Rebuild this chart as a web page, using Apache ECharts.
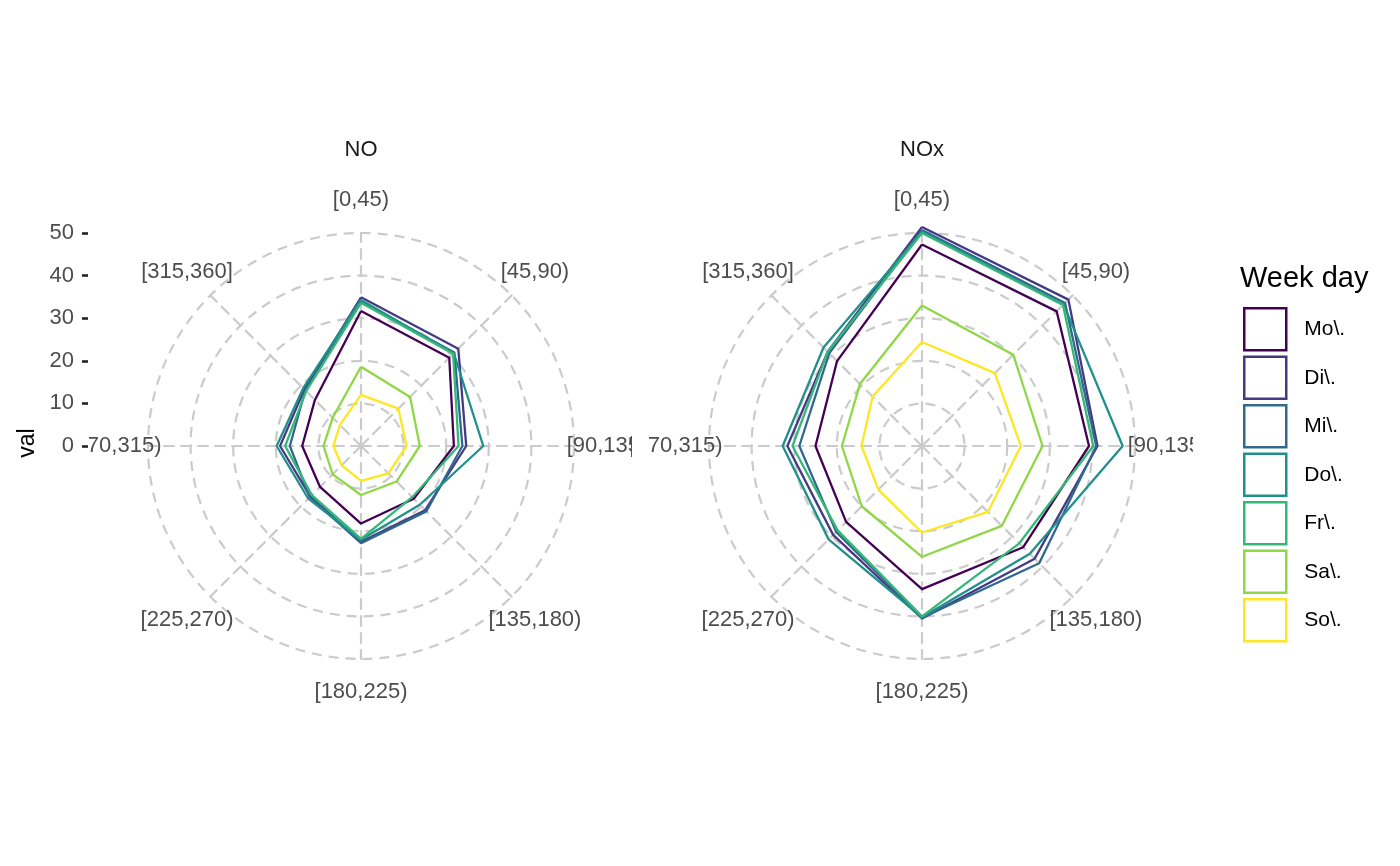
<!DOCTYPE html>
<html>
<head>
<meta charset="utf-8">
<script src="https://cdn.jsdelivr.net/npm/echarts@6/dist/echarts.min.js"></script>
<style>
  html, body { margin: 0; background: #fff; }
  #chart { width: 1400px; height: 866px; }
</style>
</head>
<body>
<div id="chart"></div>
<script>
// wind sectors, clockwise from north (ggplot order)
const sectors = ['[0,45)', '[45,90)', '[90,135)', '[135,180)', '[180,225)', '[225,270)', '[270,315)', '[315,360]']
const weekDays = ['Mo\\.', 'Di\\.', 'Mi\\.', 'Do\\.', 'Fr\\.', 'Sa\\.', 'So\\.']
const dayColors = ['#440154', '#443a83', '#31688e', '#21908c', '#35b779', '#8fd744', '#fde725']
const panelNames = ['NO', 'NOx']
const valTicks = [0, 10, 20, 30, 40, 50]

// NO, values per sector
const noMo = [31.7, 29.3, 21.8, 17.5, 18.2, 13.6, 13.8, 15.3]
const noDi = [34.9, 32.3, 24.7, 21.3, 22.5, 16.8, 19.0, 18.8]
const noMi = [33.8, 31.0, 23.8, 21.7, 22.8, 17.0, 16.7, 18.5]
const noDo = [34.3, 30.8, 28.7, 19.5, 22.0, 17.5, 19.8, 19.2]
const noFr = [33.6, 30.6, 22.9, 17.0, 21.8, 16.3, 17.8, 18.2]
const noSa = [18.6, 16.3, 13.8, 11.8, 11.5, 9.4, 8.8, 9.4]
const noSo = [12.0, 12.4, 10.7, 9.1, 8.2, 6.4, 6.5, 7.0]

// NOx, values per sector
const noxMo = [47.3, 44.7, 39.2, 33.6, 33.6, 25.2, 25.0, 28.2]
const noxDi = [51.4, 48.6, 41.2, 37.4, 40.5, 29.5, 31.6, 31.3]
const noxMi = [50.7, 47.5, 40.9, 38.9, 40.3, 28.5, 28.8, 30.8]
const noxDo = [50.3, 47.0, 47.1, 35.8, 40.2, 31.0, 32.7, 32.7]
const noxFr = [50.0, 46.8, 40.2, 32.3, 40.0, 28.0, 30.4, 31.3]
const noxSa = [33.0, 30.3, 28.3, 26.5, 26.0, 20.0, 18.8, 20.6]
const noxSo = [24.4, 24.2, 23.2, 21.9, 20.3, 14.5, 14.2, 16.4]

const panelValues = [
  [noMo, noDi, noMi, noDo, noFr, noSa, noSo],
  [noxMo, noxDi, noxMi, noxDo, noxFr, noxSa, noxSo]
]

const fontFamily = 'Liberation Sans, Arial, sans-serif'
const centers = [361, 922]
const centerY = 446
const gridStyle = { color: '#cbcbcb', width: 2.2, type: [10, 7] }

// echarts radar runs counter-clockwise, ggplot clockwise
const toRadarOrder = arr => [arr[0]].concat(arr.slice(1).reverse())

const chart = echarts.init(document.getElementById('chart'))

const radars = panelNames.map((p, i) => ({
  center: [centers[i], centerY],
  radius: 213,
  startAngle: 90,
  shape: 'circle',
  splitNumber: 5,
  nameGap: 33,
  indicator: toRadarOrder(sectors).map(name => ({ name, min: 0, max: 50 })),
  axisName: {
    color: '#4d4d4d', fontSize: 22, fontFamily,
    align: 'center', verticalAlign: 'middle'
  },
  splitLine: { lineStyle: gridStyle },
  splitArea: { show: false },
  axisLine: { lineStyle: gridStyle },
  axisTick: { show: false },
  axisLabel: { show: false }
}))

const series = []
panelNames.forEach((p, i) => {
  weekDays.forEach((day, d) => {
    series.push({
      type: 'radar',
      radarIndex: i,
      name: day,
      symbol: 'none',
      itemStyle: { color: dayColors[d] },
      lineStyle: { color: dayColors[d], width: 2.3 },
      data: [{ name: day, value: toRadarOrder(panelValues[i][d]) }]
    })
  })
})

// white boxes standing in for ggplot's panel clipping of the side labels
const clipBox = (x, w) => ({
  type: 'rect', z: 50, silent: true,
  shape: { x, y: 430, width: w, height: 34 },
  style: { fill: '#fff' }
})

chart.setOption({
  animation: false,
  backgroundColor: '#fff',
  title: [
    { text: 'NO', left: centers[0], top: 139, textAlign: 'center', padding: 0,
      textStyle: { color: '#1a1a1a', fontSize: 22, fontWeight: 'normal', fontFamily } },
    { text: 'NOx', left: centers[1], top: 139, textAlign: 'center', padding: 0,
      textStyle: { color: '#1a1a1a', fontSize: 22, fontWeight: 'normal', fontFamily } },
    { text: 'Week day', left: 1240, top: 264, padding: 0,
      textStyle: { color: '#000', fontSize: 29, fontWeight: 'normal', fontFamily } }
  ],
  legend: {
    orient: 'vertical',
    left: 1243,
    top: 307,
    padding: 0,
    itemWidth: 42,
    itemHeight: 42,
    itemGap: 4,
    icon: 'rect',
    textStyle: { color: '#000', fontSize: 21, fontFamily, padding: [0, 0, 0, 13] },
    data: weekDays.map((day, d) => ({
      name: day,
      itemStyle: { color: '#fff', borderColor: dayColors[d], borderWidth: 2.5 }
    }))
  },
  grid: { left: 88, top: 233, width: 10, height: 213 },
  xAxis: { type: 'value', show: false },
  yAxis: {
    type: 'value', min: valTicks[0], max: valTicks[valTicks.length - 1], interval: 10, z: 100,
    axisLine: { show: false },
    axisTick: { show: true, length: 6, lineStyle: { color: '#222', width: 2.6 } },
    splitLine: { show: false },
    axisLabel: { color: '#4d4d4d', fontSize: 22, fontFamily, margin: 14 }
  },
  radar: radars,
  series,
  graphic: [
    clipBox(0, 89),
    clipBox(632, 17),
    clipBox(1193, 45),
    { type: 'text', x: 28, y: 443, rotation: Math.PI / 2, z: 100,
      style: { text: 'val', fill: '#000', fontSize: 23, fontFamily, align: 'center', verticalAlign: 'middle' } }
  ]
})
</script>
</body>
</html>
